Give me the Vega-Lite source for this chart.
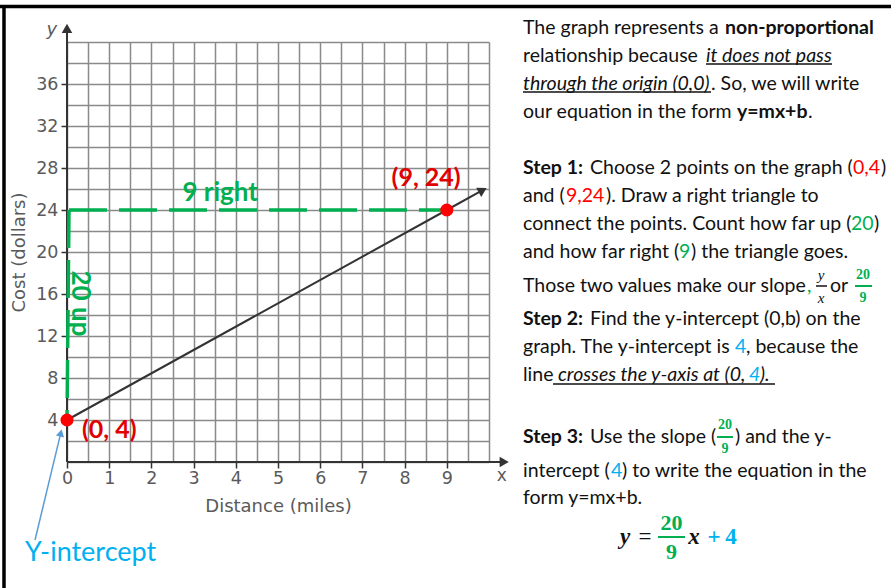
{
  "$schema": "https://vega.github.io/schema/vega-lite/v6.json",
  "width": 422,
  "height": 420,
  "autosize": {"type": "none"},
  "padding": {"left": 67, "top": 42, "right": 402, "bottom": 126},
  "background": "white",
  "config": {"view": {"stroke": null}, "font": "Lato"},
  "datasets": {
    "axes": [
      {"x": 0, "y": 0, "x2": 10.36, "y2": 0},
      {"x": 0, "y": 0, "x2": 0, "y2": 41.3}
    ],
    "xhead": [{"x": 10.36, "y": 0}],
    "yhead": [{"x": 0, "y": 41.3}],
    "legs": [
      {"x": 0, "y": 24, "x2": 9, "y2": 24},
      {"x": 0, "y": 24, "x2": 0, "y2": 4}
    ],
    "cost": [
      {"x": 0, "y": 4},
      {"x": 9, "y": 24},
      {"x": 9.85, "y": 25.89}
    ],
    "linehead": [{"x": 9.85, "y": 25.89}],
    "points": [
      {"x": 0, "y": 4},
      {"x": 9, "y": 24}
    ],
    "pointer": [{"x": -0.758, "y": -7.43, "x2": -0.147, "y2": 2.77}],
    "pointerhead": [{"x": -0.147, "y": 2.77}],
    "border": [
      {"x": -1.588, "y": 43.38, "x2": 19.53, "y2": 43.38},
      {"x": -1.493, "y": 43.38, "x2": -1.493, "y2": -12.0}
    ],
    "notes": [
      {"x": 3.63, "y": 25.6, "text": "9 right", "kind": "green"},
      {"x": 0.31, "y": 15.1, "text": "20 up", "kind": "greenrot"},
      {"x": 0.355, "y": 3.05, "text": "(0, 4)", "kind": "redl"},
      {"x": 8.51, "y": 27.05, "text": "(9, 24)", "kind": "redc"},
      {"x": -0.995, "y": -8.67, "text": "Y-intercept", "kind": "blue"},
      {"x": 10.3, "y": -1.33, "text": "x", "kind": "axx"},
      {"x": -0.36, "y": 41.14, "text": "y", "kind": "axy"}
    ],
    "panel": [
      {"x": 10.806, "y": 41.333, "text": "The graph represents a", "kind": "n"},
      {"x": 15.592, "y": 41.333, "text": "non-proportional", "kind": "b"},
      {"x": 10.806, "y": 38.667, "text": "relationship because", "kind": "n"},
      {"x": 15.142, "y": 38.667, "text": "it does not pass", "kind": "i"},
      {"x": 10.806, "y": 36.0, "text": "through the origin (0,0)", "kind": "i"},
      {"x": 15.261, "y": 36.0, "text": ". So, we will write", "kind": "n"},
      {"x": 10.806, "y": 33.333, "text": "our equation in the form", "kind": "n"},
      {"x": 15.877, "y": 33.333, "text": "y=mx+b", "kind": "b"},
      {"x": 17.559, "y": 33.333, "text": ".", "kind": "n"},
      {"x": 10.806, "y": 28.0, "text": "Step 1:", "kind": "b"},
      {"x": 12.393, "y": 28.0, "text": "Choose 2 points on the graph (", "kind": "n"},
      {"x": 18.626, "y": 28.0, "text": "0,4", "kind": "r"},
      {"x": 19.289, "y": 28.0, "text": ")", "kind": "n"},
      {"x": 10.806, "y": 25.333, "text": "and (", "kind": "n"},
      {"x": 11.825, "y": 25.333, "text": "9,24", "kind": "r"},
      {"x": 12.773, "y": 25.333, "text": "). Draw a right triangle to", "kind": "n"},
      {"x": 10.806, "y": 22.667, "text": "connect the points. Count how far up (", "kind": "n"},
      {"x": 18.578, "y": 22.667, "text": "20", "kind": "g"},
      {"x": 19.123, "y": 22.667, "text": ")", "kind": "n"},
      {"x": 10.806, "y": 20.0, "text": "and how far right (", "kind": "n"},
      {"x": 14.502, "y": 20.0, "text": "9", "kind": "g"},
      {"x": 14.787, "y": 20.0, "text": ") the triangle goes.", "kind": "n"},
      {"x": 10.806, "y": 16.762, "text": "Those two values make our slope", "kind": "n"},
      {"x": 17.536, "y": 16.762, "text": ",", "kind": "g"},
      {"x": 18.081, "y": 16.762, "text": "or", "kind": "n"},
      {"x": 17.867, "y": 17.81, "text": "y", "kind": "mf"},
      {"x": 17.867, "y": 15.619, "text": "x", "kind": "mf"},
      {"x": 18.863, "y": 17.81, "text": "20", "kind": "gf"},
      {"x": 18.863, "y": 15.619, "text": "9", "kind": "gf"},
      {"x": 10.806, "y": 13.619, "text": "Step 2:", "kind": "b"},
      {"x": 12.393, "y": 13.619, "text": "Find the y-intercept (0,b) on the", "kind": "n"},
      {"x": 10.806, "y": 10.952, "text": "graph. The y-intercept is", "kind": "n"},
      {"x": 15.829, "y": 10.952, "text": "4", "kind": "bl"},
      {"x": 16.09, "y": 10.952, "text": ", because the", "kind": "n"},
      {"x": 10.806, "y": 8.286, "text": "line", "kind": "n"},
      {"x": 11.635, "y": 8.286, "text": "crosses the y-axis at (0,", "kind": "i"},
      {"x": 16.161, "y": 8.286, "text": "4", "kind": "bli"},
      {"x": 16.422, "y": 8.286, "text": ").", "kind": "i"},
      {"x": 10.806, "y": 2.381, "text": "Step 3:", "kind": "b"},
      {"x": 12.393, "y": 2.381, "text": "Use the slope (", "kind": "n"},
      {"x": 15.592, "y": 3.524, "text": "20", "kind": "gf"},
      {"x": 15.592, "y": 1.238, "text": "9", "kind": "gf"},
      {"x": 15.829, "y": 2.381, "text": ") and the y-", "kind": "n"},
      {"x": 10.806, "y": -0.857, "text": "intercept (", "kind": "n"},
      {"x": 12.891, "y": -0.857, "text": "4", "kind": "bl"},
      {"x": 13.152, "y": -0.857, "text": ") to write the equation in the", "kind": "n"},
      {"x": 10.806, "y": -3.429, "text": "form y=mx+b.", "kind": "n"},
      {"x": 13.223, "y": -7.143, "text": "y", "kind": "eqb"},
      {"x": 13.697, "y": -7.143, "text": "=", "kind": "eqn"},
      {"x": 14.325, "y": -5.81, "text": "20", "kind": "eqg"},
      {"x": 14.325, "y": -8.571, "text": "9", "kind": "eqg"},
      {"x": 14.858, "y": -7.143, "text": "x", "kind": "eqb"},
      {"x": 15.332, "y": -7.143, "text": "+", "kind": "eqbl"},
      {"x": 15.735, "y": -7.143, "text": "4", "kind": "eqbl"}
    ],
    "panelrules": [
      {"x": 15.142, "x2": 18.128, "y": 37.905, "y2": 37.905, "kind": "ul"},
      {"x": 10.806, "x2": 15.261, "y": 35.238, "y2": 35.238, "kind": "ul"},
      {"x": 11.517, "x2": 16.777, "y": 7.429, "y2": 7.429, "kind": "ul"},
      {"x": 17.749, "x2": 18.009, "y": 16.762, "y2": 16.762, "kind": "bar"},
      {"x": 18.673, "x2": 19.076, "y": 16.762, "y2": 16.762, "kind": "gbar"},
      {"x": 15.403, "x2": 15.782, "y": 2.381, "y2": 2.381, "kind": "gbar"},
      {"x": 14.005, "x2": 14.645, "y": -7.143, "y2": -7.143, "kind": "gbar"}
    ]
  },
  "encoding": {
    "x": {
      "field": "x",
      "type": "quantitative",
      "scale": {"domain": [0, 10], "nice": false, "zero": false},
      "axis": {
        "values": [0, 0.5, 1, 1.5, 2, 2.5, 3, 3.5, 4, 4.5, 5, 5.5, 6, 6.5, 7, 7.5, 8, 8.5, 9, 9.5, 10],
        "format": "~g",
        "grid": true,
        "gridColor": "#8a8a8a",
        "gridWidth": 1.5,
        "domain": false,
        "tickSize": 6,
        "tickWidth": 1.5,
        "tickColor": {"condition": {"test": "datum.value % 1 !== 0 || datum.value >= 10", "value": "transparent"}, "value": "#333333"},
        "labelExpr": "datum.value % 1 === 0 && datum.value < 10 ? datum.label : ''",
        "labelOverlap": false,
        "labelFlush": false,
        "labelBound": false,
        "labelFont": "DejaVu Sans",
        "labelFontSize": 17.5,
        "labelColor": "#5a5a5a",
        "labelPadding": 1,
        "title": "Distance (miles)",
        "titleFont": "DejaVu Sans",
        "titleFontSize": 18,
        "titleFontWeight": "normal",
        "titleColor": "#5a5a5a",
        "titlePadding": 11
      }
    },
    "y": {
      "field": "y",
      "type": "quantitative",
      "scale": {"domain": [0, 40], "nice": false, "zero": false},
      "axis": {
        "values": [0, 2, 4, 6, 8, 10, 12, 14, 16, 18, 20, 22, 24, 26, 28, 30, 32, 34, 36, 38, 40],
        "format": "~g",
        "grid": true,
        "gridColor": "#8a8a8a",
        "gridWidth": 1.5,
        "domain": false,
        "tickSize": 6,
        "tickWidth": 1.5,
        "tickColor": {"condition": {"test": "datum.value % 4 !== 0 || datum.value <= 0 || datum.value >= 40", "value": "transparent"}, "value": "#333333"},
        "labelExpr": "datum.value % 4 === 0 && datum.value > 0 && datum.value < 40 ? datum.label : ''",
        "labelOverlap": false,
        "labelFlush": false,
        "labelBound": false,
        "labelFont": "DejaVu Sans",
        "labelFontSize": 17.5,
        "labelColor": "#5a5a5a",
        "labelPadding": 3,
        "title": "Cost (dollars)",
        "titleFont": "DejaVu Sans",
        "titleFontSize": 18,
        "titleFontWeight": "normal",
        "titleColor": "#5a5a5a",
        "titlePadding": 7
      }
    }
  },
  "layer": [
    {
      "data": {"name": "axes"},
      "mark": {"type": "rule", "color": "#333333", "strokeWidth": 2},
      "encoding": {"x2": {"field": "x2"}, "y2": {"field": "y2"}}
    },
    {
      "data": {"name": "xhead"},
      "mark": {"type": "point", "shape": "triangle-right", "filled": true, "size": 110, "color": "#333333", "opacity": 1}
    },
    {
      "data": {"name": "yhead"},
      "mark": {"type": "point", "shape": "triangle-up", "filled": true, "size": 110, "color": "#333333", "opacity": 1}
    },
    {
      "data": {"name": "legs"},
      "mark": {"type": "rule", "color": "#00b050", "strokeWidth": 3.5, "strokeDash": [38, 12], "xOffset": 2},
      "encoding": {"x2": {"field": "x2"}, "y2": {"field": "y2"}}
    },
    {
      "data": {"name": "cost"},
      "mark": {"type": "line", "color": "#333333", "strokeWidth": 2}
    },
    {
      "data": {"name": "linehead"},
      "mark": {"type": "point", "shape": "triangle-right", "filled": true, "size": 110, "color": "#333333", "opacity": 1, "angle": 331}
    },
    {
      "data": {"name": "points"},
      "mark": {"type": "point", "shape": "circle", "filled": true, "size": 170, "color": "#ff0000", "opacity": 1}
    },
    {
      "data": {"name": "pointer"},
      "mark": {"type": "rule", "color": "#5b9bd5", "strokeWidth": 1.5},
      "encoding": {"x2": {"field": "x2"}, "y2": {"field": "y2"}}
    },
    {
      "data": {"name": "pointerhead"},
      "mark": {"type": "point", "shape": "triangle-up", "filled": true, "size": 70, "color": "#5b9bd5", "opacity": 1, "angle": 13.6}
    },
    {
      "data": {"name": "border"},
      "mark": {"type": "rule", "color": "#000000", "strokeWidth": 3.5},
      "encoding": {"x2": {"field": "x2"}, "y2": {"field": "y2"}}
    },
    {
      "data": {"name": "notes"},
      "transform": [{"filter": "datum.kind === 'green'"}],
      "mark": {"type": "text", "font": "Lato", "fontWeight": "bold", "fontSize": 26, "color": "#00b050", "align": "center", "baseline": "middle"},
      "encoding": {"text": {"field": "text"}}
    },
    {
      "data": {"name": "notes"},
      "transform": [{"filter": "datum.kind === 'greenrot'"}],
      "mark": {"type": "text", "font": "Lato", "fontWeight": "bold", "fontSize": 26, "color": "#00b050", "align": "center", "baseline": "middle", "angle": 90},
      "encoding": {"text": {"field": "text"}}
    },
    {
      "data": {"name": "notes"},
      "transform": [{"filter": "datum.kind === 'redl'"}],
      "mark": {"type": "text", "font": "Lato", "fontWeight": "bold", "fontSize": 25, "color": "#e00000", "align": "left", "baseline": "middle"},
      "encoding": {"text": {"field": "text"}}
    },
    {
      "data": {"name": "notes"},
      "transform": [{"filter": "datum.kind === 'redc'"}],
      "mark": {"type": "text", "font": "Lato", "fontWeight": "bold", "fontSize": 25, "color": "#e00000", "align": "center", "baseline": "middle"},
      "encoding": {"text": {"field": "text"}}
    },
    {
      "data": {"name": "notes"},
      "transform": [{"filter": "datum.kind === 'blue'"}],
      "mark": {"type": "text", "font": "Lato", "fontSize": 27, "color": "#00b0f0", "align": "left", "baseline": "middle"},
      "encoding": {"text": {"field": "text"}}
    },
    {
      "data": {"name": "notes"},
      "transform": [{"filter": "datum.kind === 'axx'"}],
      "mark": {"type": "text", "font": "DejaVu Sans", "fontSize": 17, "color": "#5a5a5a", "align": "center", "baseline": "middle"},
      "encoding": {"text": {"field": "text"}}
    },
    {
      "data": {"name": "notes"},
      "transform": [{"filter": "datum.kind === 'axy'"}],
      "mark": {"type": "text", "font": "DejaVu Sans", "fontStyle": "italic", "fontSize": 18, "color": "#5a5a5a", "align": "center", "baseline": "middle"},
      "encoding": {"text": {"field": "text"}}
    },
    {
      "data": {"name": "panel"},
      "transform": [{"filter": "datum.kind === 'n'"}],
      "mark": {"type": "text", "font": "Lato", "fontSize": 19.5, "color": "#111111", "align": "left", "baseline": "middle"},
      "encoding": {"text": {"field": "text"}}
    },
    {
      "data": {"name": "panel"},
      "transform": [{"filter": "datum.kind === 'b'"}],
      "mark": {"type": "text", "font": "Lato", "fontWeight": "bold", "fontSize": 19.5, "color": "#111111", "align": "left", "baseline": "middle"},
      "encoding": {"text": {"field": "text"}}
    },
    {
      "data": {"name": "panel"},
      "transform": [{"filter": "datum.kind === 'i'"}],
      "mark": {"type": "text", "font": "Lato", "fontStyle": "italic", "fontSize": 19.5, "color": "#111111", "align": "left", "baseline": "middle"},
      "encoding": {"text": {"field": "text"}}
    },
    {
      "data": {"name": "panel"},
      "transform": [{"filter": "datum.kind === 'r'"}],
      "mark": {"type": "text", "font": "Lato", "fontSize": 19.5, "color": "#ff0000", "align": "left", "baseline": "middle"},
      "encoding": {"text": {"field": "text"}}
    },
    {
      "data": {"name": "panel"},
      "transform": [{"filter": "datum.kind === 'g'"}],
      "mark": {"type": "text", "font": "Lato", "fontSize": 19.5, "color": "#00b050", "align": "left", "baseline": "middle"},
      "encoding": {"text": {"field": "text"}}
    },
    {
      "data": {"name": "panel"},
      "transform": [{"filter": "datum.kind === 'bl'"}],
      "mark": {"type": "text", "font": "Lato", "fontSize": 19.5, "color": "#00b0f0", "align": "left", "baseline": "middle"},
      "encoding": {"text": {"field": "text"}}
    },
    {
      "data": {"name": "panel"},
      "transform": [{"filter": "datum.kind === 'bli'"}],
      "mark": {"type": "text", "font": "Lato", "fontStyle": "italic", "fontSize": 19.5, "color": "#00b0f0", "align": "left", "baseline": "middle"},
      "encoding": {"text": {"field": "text"}}
    },
    {
      "data": {"name": "panel"},
      "transform": [{"filter": "datum.kind === 'gf'"}],
      "mark": {"type": "text", "font": "Liberation Serif", "fontWeight": "bold", "fontSize": 14, "color": "#00b050", "align": "center", "baseline": "middle"},
      "encoding": {"text": {"field": "text"}}
    },
    {
      "data": {"name": "panel"},
      "transform": [{"filter": "datum.kind === 'mf'"}],
      "mark": {"type": "text", "font": "Liberation Serif", "fontStyle": "italic", "fontSize": 15, "color": "#111111", "align": "center", "baseline": "middle"},
      "encoding": {"text": {"field": "text"}}
    },
    {
      "data": {"name": "panel"},
      "transform": [{"filter": "datum.kind === 'eqb'"}],
      "mark": {"type": "text", "font": "Liberation Serif", "fontStyle": "italic", "fontWeight": "bold", "fontSize": 23, "color": "#111111", "align": "center", "baseline": "middle"},
      "encoding": {"text": {"field": "text"}}
    },
    {
      "data": {"name": "panel"},
      "transform": [{"filter": "datum.kind === 'eqn'"}],
      "mark": {"type": "text", "font": "Liberation Serif", "fontSize": 23, "color": "#111111", "align": "center", "baseline": "middle"},
      "encoding": {"text": {"field": "text"}}
    },
    {
      "data": {"name": "panel"},
      "transform": [{"filter": "datum.kind === 'eqg'"}],
      "mark": {"type": "text", "font": "Liberation Serif", "fontWeight": "bold", "fontSize": 22, "color": "#00b050", "align": "center", "baseline": "middle"},
      "encoding": {"text": {"field": "text"}}
    },
    {
      "data": {"name": "panel"},
      "transform": [{"filter": "datum.kind === 'eqbl'"}],
      "mark": {"type": "text", "font": "Liberation Serif", "fontWeight": "bold", "fontSize": 23, "color": "#00b0f0", "align": "center", "baseline": "middle"},
      "encoding": {"text": {"field": "text"}}
    },
    {
      "data": {"name": "panelrules"},
      "transform": [{"filter": "datum.kind === 'ul'"}],
      "mark": {"type": "rule", "color": "#111111", "strokeWidth": 1.5},
      "encoding": {"x2": {"field": "x2"}, "y2": {"field": "y2"}}
    },
    {
      "data": {"name": "panelrules"},
      "transform": [{"filter": "datum.kind === 'bar'"}],
      "mark": {"type": "rule", "color": "#111111", "strokeWidth": 1.5},
      "encoding": {"x2": {"field": "x2"}, "y2": {"field": "y2"}}
    },
    {
      "data": {"name": "panelrules"},
      "transform": [{"filter": "datum.kind === 'gbar'"}],
      "mark": {"type": "rule", "color": "#00b050", "strokeWidth": 2},
      "encoding": {"x2": {"field": "x2"}, "y2": {"field": "y2"}}
    }
  ]
}
